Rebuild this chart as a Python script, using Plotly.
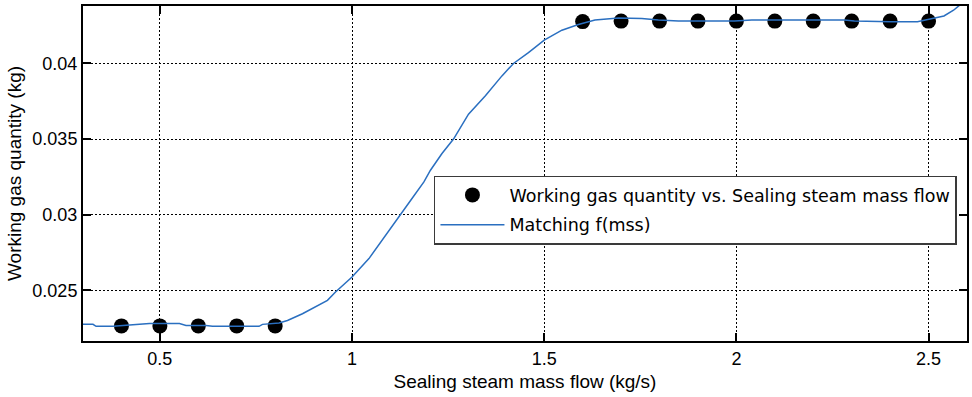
import plotly.graph_objects as go

# Measured working gas quantity at each sealing steam mass flow
mss_points = [0.4, 0.5, 0.6, 0.7, 0.8,
              1.6, 1.7, 1.8, 1.9, 2.0, 2.1, 2.2, 2.3, 2.4, 2.5]
gas_points = [0.02265, 0.02265, 0.02265, 0.02265, 0.02265,
              0.04277, 0.0428, 0.0428, 0.0428, 0.0428, 0.0428, 0.0428, 0.0428, 0.0428, 0.0428]

# Fitted matching function f(mss)
mss_fit = [0.296, 0.326, 0.334, 0.378, 0.404, 0.464, 0.473, 0.551, 0.568, 0.62,
           0.637, 0.758, 0.767, 0.81, 0.832, 0.871, 0.897, 0.936, 0.957, 1.0,
           1.044, 1.087, 1.126, 1.156, 1.187, 1.204, 1.234, 1.264, 1.303, 1.347,
           1.39, 1.42, 1.459, 1.5, 1.546, 1.589, 1.632, 1.693, 1.754, 1.797,
           1.849, 1.918, 1.995, 2.04, 2.09, 2.151, 2.213, 2.281, 2.307, 2.35,
           2.402, 2.471, 2.505, 2.54, 2.565, 2.583, 2.6]
gas_fit = [0.02275, 0.02275, 0.02262, 0.02262, 0.02268, 0.02275, 0.0228, 0.0228, 0.02268, 0.02268,
           0.02262, 0.02262, 0.02275, 0.02284, 0.02301, 0.02345, 0.02379, 0.02434, 0.02489, 0.02588,
           0.0271, 0.02864, 0.03008, 0.03107, 0.03217, 0.03294, 0.03405, 0.035, 0.03665, 0.03786,
           0.03918, 0.04, 0.04072, 0.04154, 0.0422, 0.04258, 0.04287, 0.04301, 0.04297, 0.04287,
           0.0428, 0.0428, 0.0428, 0.04287, 0.04287, 0.04287, 0.04287, 0.04287, 0.0428, 0.04276,
           0.04276, 0.04276, 0.04294, 0.04314, 0.04352, 0.0439, 0.0445]

x_ticks = [0.5, 1, 1.5, 2, 2.5]
x_tick_labels = ["0.5", "1", "1.5", "2", "2.5"]
y_ticks = [0.025, 0.03, 0.035, 0.04]
y_tick_labels = ["0.025", "0.03", "0.035", "0.04"]

fig = go.Figure()
fig.add_trace(go.Scatter(
    x=mss_points, y=gas_points, mode="markers",
    name="Working gas quantity vs. Sealing steam mass flow",
    legendgroup="measured",
    marker=dict(color="black", size=15, symbol="circle"),
))
fig.add_trace(go.Scatter(
    x=mss_fit, y=gas_fit, mode="lines",
    name="Matching f(mss)",
    legendgroup="fit",
    line=dict(color="#2a6fc0", width=1.5),
))

label_font = dict(family="Liberation Sans, Arial, sans-serif", size=19, color="black")
axis_common = dict(
    showline=True, linecolor="black", linewidth=2, mirror="ticks",
    ticks="inside", ticklen=8, tickwidth=1.5, tickcolor="black",
    showgrid=True, gridcolor="black", gridwidth=1, griddash="2px,2px",
    zeroline=False,
    tickfont=dict(family="Liberation Sans, Arial, sans-serif", size=18, color="black"),
)

fig.update_xaxes(
    range=[0.3, 2.6], tickvals=x_ticks, ticktext=x_tick_labels,
    title=dict(text="Sealing steam mass flow (kg/s)", standoff=7, font=label_font),
    **axis_common,
)
fig.update_yaxes(
    range=[0.02165, 0.0438], tickvals=y_ticks, ticktext=y_tick_labels,
    title=dict(text="Working gas quantity (kg)", standoff=6, font=label_font),
    **axis_common,
)

fig.update_layout(
    width=972, height=397,
    margin=dict(l=83, r=3, t=6, b=56),
    paper_bgcolor="white", plot_bgcolor="white",
    showlegend=True,
    legend=dict(
        x=0.397, y=0.494, xanchor="left", yanchor="top",
        bgcolor="white", bordercolor="#3a3a3a", borderwidth=1.5,
        font=dict(family="DejaVu Sans, sans-serif", size=17.5, color="black"),
        itemwidth=64, traceorder="grouped", tracegroupgap=4,
    ),
)

fig.write_html("out.html")
